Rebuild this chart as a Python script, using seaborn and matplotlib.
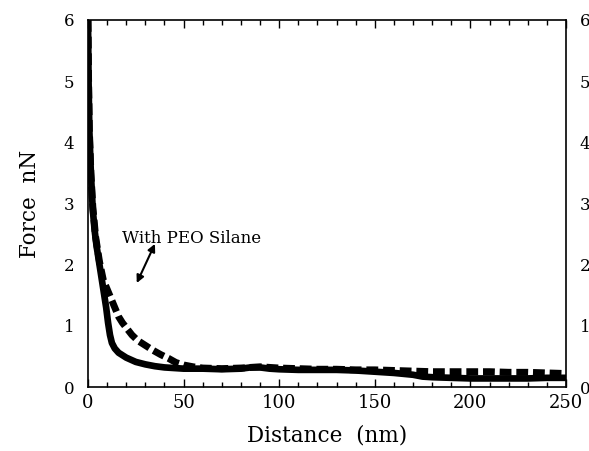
import matplotlib
matplotlib.use("Agg")
import matplotlib.pyplot as plt
import seaborn as sns
import pandas as pd
import numpy as np
from matplotlib.ticker import MultipleLocator

# --- data ---
dist_solid = [0, 0.3, 0.7, 1.5, 2.5, 3.5, 4.5, 5.5, 6.5, 7.5, 8.5, 9.5, 10.5, 11.5, 12.5,
              14, 16, 18, 20, 25, 30, 35, 40, 45, 50, 60, 70, 80, 85, 90, 95, 100,
              110, 120, 130, 140, 150, 160, 170, 175, 180, 190, 200, 210, 220, 230, 240, 250]
force_solid = [6.0, 5.0, 4.2, 3.5, 2.9, 2.55, 2.3, 2.1, 1.9, 1.7, 1.5, 1.3, 1.05, 0.85, 0.72,
               0.63, 0.56, 0.52, 0.48, 0.41, 0.37, 0.34, 0.32, 0.31, 0.30, 0.30, 0.29, 0.30, 0.32, 0.32, 0.30, 0.29,
               0.28, 0.28, 0.28, 0.27, 0.25, 0.23, 0.20, 0.17, 0.16, 0.15, 0.14, 0.14, 0.14, 0.14, 0.15, 0.15]

dist_dashed = [0, 0.3, 0.7, 1.5, 2.5, 4, 6, 8, 10, 12, 14, 16, 18, 20, 23, 26, 30, 34, 38, 42, 46, 50,
               55, 60, 70, 80, 90, 100, 110, 120, 130, 140, 150, 160, 170, 180, 190, 200, 210, 220, 230, 240, 250]
force_dashed = [6.0, 5.0, 4.2, 3.5, 2.95, 2.45, 2.05, 1.75, 1.6, 1.45, 1.3, 1.15, 1.05, 0.97, 0.85, 0.76, 0.68, 0.6, 0.53, 0.47, 0.4, 0.36,
                0.33, 0.31, 0.30, 0.31, 0.33, 0.31, 0.30, 0.29, 0.29, 0.28, 0.28, 0.27, 0.26, 0.25, 0.25, 0.25, 0.25, 0.24, 0.24, 0.23, 0.22]

x_ticks = [0, 50, 100, 150, 200, 250]
y_ticks = [0, 1, 2, 3, 4, 5, 6]
annotation = "With PEO Silane"

sns.set_theme(style="ticks")
plt.rcParams["font.family"] = ["DejaVu Serif"]
plt.rcParams["text.color"] = "black"
plt.rcParams["axes.labelcolor"] = "black"
plt.rcParams["xtick.color"] = "black"
plt.rcParams["ytick.color"] = "black"

fig = plt.figure(figsize=(5.89, 4.51), dpi=100)
ax = fig.add_axes([88/589, 1-387/451, (566-88)/589, (387-20)/451])

df_s = pd.DataFrame({"Distance": dist_solid, "Force": force_solid})
df_d = pd.DataFrame({"Distance": dist_dashed, "Force": force_dashed})

sns.lineplot(data=df_d, x="Distance", y="Force", ax=ax, color="black", lw=5.0,
             linestyle=(0, (1.7, 0.7)), sort=False, estimator=None)
sns.lineplot(data=df_s, x="Distance", y="Force", ax=ax, color="black", lw=4.8,
             sort=False, estimator=None)
for ln in ax.get_lines():
    ln.set_dash_capstyle("butt")
    ln.set_solid_joinstyle("round")

ax.set_xlim(0, 250)
ax.set_ylim(0, 6)
ax.set_xticks(x_ticks)
ax.xaxis.set_minor_locator(MultipleLocator(10))
ax.set_yticks(y_ticks)

ax.tick_params(axis="x", which="major", direction="in", length=6, width=1.0, top=True,
               labelsize=13, pad=5, colors="black")
ax.tick_params(axis="x", which="minor", direction="in", length=3.5, width=1.0, top=True)
ax.tick_params(axis="y", which="both", length=0, left=True, right=True, labelleft=True,
               labelright=True, labelsize=12, pad=10, colors="black")

for sp in ax.spines.values():
    sp.set_linewidth(1.2)
    sp.set_color("black")
    sp.set_visible(True)

ax.set_xlabel("Distance  (nm)", fontsize=15.5, labelpad=9, color="black")
ax.set_ylabel("Force  nN", fontsize=15.5, labelpad=16, color="black")

ax.text(54.4, 2.42, annotation, ha="center", va="center", fontsize=12, color="black")
ax.annotate("", xy=(25.5, 1.70), xytext=(35, 2.34),
            arrowprops=dict(arrowstyle="<|-|>", color="black", lw=1.5,
                            mutation_scale=11, shrinkA=0, shrinkB=0))

fig.savefig("out.png", dpi=100)
